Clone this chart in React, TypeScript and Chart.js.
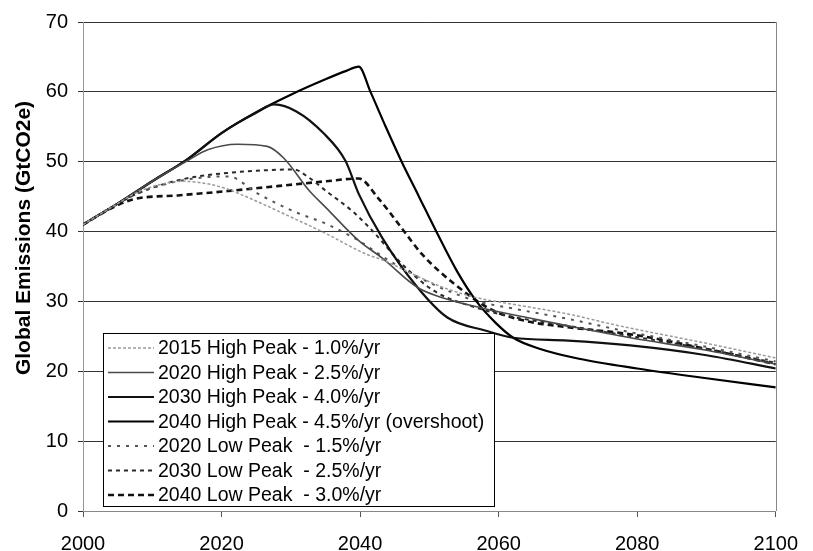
import { useEffect, useRef } from "react";
import { Chart, registerables } from "chart.js";

Chart.register(...registerables);

const FONT = '"Liberation Sans", Arial, Helvetica, sans-serif';

const yTitle = "Global Emissions (GtCO2e)";

const labels = [
  "2015 High Peak - 1.0%/yr",
  "2020 High Peak - 2.5%/yr",
  "2030 High Peak - 4.0%/yr",
  "2040 High Peak - 4.5%/yr (overshoot)",
  "2020 Low Peak  - 1.5%/yr",
  "2030 Low Peak  - 2.5%/yr",
  "2040 Low Peak  - 3.0%/yr",
];

const high2015Years = [2000, 2005, 2008, 2011, 2014.3, 2018.2, 2020.5, 2023.3, 2030.4, 2035.1, 2040.8, 2043.6, 2047.4, 2052, 2057, 2062, 2070, 2077, 2090, 2100];
const high2015Values = [41, 44, 45.7, 46.7, 47.2, 46.8, 46.2, 45.1, 41.9, 39.7, 36.8, 35.8, 34, 32, 30.5, 29.6, 28.2, 26.6, 24, 21.9];

const high2020Years = [2000, 2005, 2010, 2015, 2018, 2022.3, 2026.6, 2029, 2032.7, 2035.1, 2039.8, 2043.2, 2048.3, 2052, 2057.4, 2065, 2070, 2079, 2090, 2100];
const high2020Values = [41, 44, 47.2, 50.1, 51.7, 52.5, 52.2, 50.5, 45.8, 43.4, 38.7, 36.2, 32, 30.5, 29.1, 27.5, 26.5, 24.8, 23, 21];

const high2030Years = [2000, 2005, 2010, 2015, 2020, 2025, 2027.6, 2030.8, 2034.7, 2037.9, 2039.8, 2043.2, 2048.3, 2052.6, 2058.2, 2062.1, 2070, 2079, 2090, 2100];
const high2030Values = [41, 44, 47.2, 50.3, 54.1, 57.0, 58.2, 57.2, 54.1, 50.1, 45.4, 39.1, 32, 27.7, 25.8, 24.8, 24.4, 23.7, 22.3, 20.4];

const high2040Years = [2000, 2005, 2010, 2015, 2020, 2025, 2030, 2035, 2038, 2039.8, 2041.5, 2043.7, 2046, 2048.5, 2051, 2054, 2056.8, 2059.5, 2062.1, 2066, 2071.6, 2080, 2090, 2100];
const high2040Values = [41, 44, 47.2, 50.3, 54.1, 57.1, 59.6, 61.8, 63.0, 63.6, 60, 55, 50, 45, 40, 34.3, 30, 27, 24.8, 23.2, 21.8, 20.4, 19, 17.7];

const low2020Years = [2000, 2005, 2008, 2012, 2016, 2021, 2025.1, 2030.4, 2035.1, 2039.8, 2043.6, 2047.4, 2052, 2057, 2062, 2070, 2078, 2090, 2100];
const low2020Values = [41, 44, 45.5, 46.8, 47.6, 47.9, 45.5, 42.9, 41.1, 38.7, 36.2, 34, 31.8, 30, 29, 27.5, 25.8, 23.5, 21.4];

const low2030Years = [2000, 2005, 2008, 2012, 2016, 2020.9, 2025, 2030.4, 2032.5, 2035.1, 2038.9, 2041.8, 2046, 2050.7, 2056.8, 2062, 2070, 2078, 2090, 2100];
const low2030Values = [41, 44, 45.5, 46.9, 47.8, 48.4, 48.7, 48.9, 47.8, 45.8, 42.9, 40.1, 35.4, 31.5, 29.1, 27.8, 26.5, 25.2, 23.2, 21.2];

const low2040Years = [2000, 2004, 2007.2, 2014, 2020.9, 2028, 2035.1, 2039.8, 2042.6, 2046, 2048.9, 2053.6, 2059.2, 2063.9, 2070, 2079, 2090, 2100];
const low2040Values = [41, 43.3, 44.6, 45.2, 45.8, 46.5, 47.2, 47.6, 44.8, 40.5, 36.8, 32.5, 28.7, 27.2, 26.3, 25.3, 23.2, 21];

const xTicks = [2000, 2020, 2040, 2060, 2080, 2100];
const yTicks = [0, 10, 20, 30, 40, 50, 60, 70];

const seriesYears = [high2015Years, high2020Years, high2030Years, high2040Years, low2020Years, low2030Years, low2040Years];
const seriesValues = [high2015Values, high2020Values, high2030Values, high2040Values, low2020Values, low2030Values, low2040Values];

const styles = [
  { color: "#9a9a9a", width: 1.5, dash: [3, 2] },
  { color: "#4a4a4a", width: 1.6, dash: [] },
  { color: "#111111", width: 2.2, dash: [] },
  { color: "#000000", width: 2.2, dash: [] },
  { color: "#555555", width: 2, dash: [3, 6] },
  { color: "#2a2a2a", width: 2, dash: [4, 4] },
  { color: "#111111", width: 2.6, dash: [6, 4] },
];

const frame = {
  id: "frame",
  afterDraw(chart: any) {
    const { ctx, chartArea } = chart;
    ctx.save();
    ctx.strokeStyle = "#888";
    ctx.lineWidth = 1;
    ctx.beginPath();
    ctx.moveTo(Math.round(chartArea.right) + 0.5, chartArea.top);
    ctx.lineTo(Math.round(chartArea.right) + 0.5, chartArea.bottom);
    ctx.stroke();

    ctx.fillStyle = "#000";
    ctx.font = `bold 21px ${FONT}`;
    ctx.textAlign = "center";
    ctx.textBaseline = "middle";
    ctx.translate(24, 238);
    ctx.rotate(-Math.PI / 2);
    ctx.fillText(yTitle, 0, 0);
    ctx.restore();

    ctx.save();
    const bx = 103.5, by = 333.5, bw = 391, bh = 173;
    ctx.fillStyle = "#fff";
    ctx.fillRect(bx, by, bw, bh);
    ctx.strokeStyle = "#000";
    ctx.lineWidth = 1;
    ctx.strokeRect(bx, by, bw, bh);
    const rowY = [348, 372.5, 397, 421.5, 446, 470.5, 495];
    chart.data.datasets.forEach((ds: any, i: number) => {
      const y = rowY[i];
      ctx.save();
      ctx.strokeStyle = ds.borderColor;
      ctx.lineWidth = ds.borderWidth;
      ctx.setLineDash(ds.borderDash || []);
      ctx.beginPath();
      ctx.moveTo(108, y);
      ctx.lineTo(154, y);
      ctx.stroke();
      ctx.restore();
      ctx.fillStyle = "#000";
      ctx.font = `19.5px ${FONT}`;
      ctx.textAlign = "left";
      ctx.textBaseline = "middle";
      ctx.fillText(ds.label, 158, y + 1);
    });
    ctx.restore();
  },
};

export default function App() {
  const ref = useRef<HTMLCanvasElement | null>(null);

  useEffect(() => {
    if (!ref.current) return;
    const datasets = labels.map((label, i) => ({
      label,
      data: seriesYears[i].map((x, j) => ({ x, y: seriesValues[i][j] })),
      borderColor: styles[i].color,
      borderWidth: styles[i].width,
      borderDash: styles[i].dash,
      pointRadius: 0,
      fill: false,
      cubicInterpolationMode: "monotone" as const,
    }));
    const chart = new Chart(ref.current, {
      type: "line",
      data: { datasets },
      options: {
        animation: false,
        responsive: false,
        layout: { padding: { top: 20, right: 26, left: 0, bottom: 0 } },
        plugins: { legend: { display: false }, tooltip: { enabled: false } },
        scales: {
          x: {
            type: "linear",
            min: 2000,
            max: 2100,
            afterBuildTicks: (s: any) => {
              s.ticks = xTicks.map((v) => ({ value: v }));
            },
            afterFit: (s: any) => {
              s.height = 40;
            },
            ticks: {
              color: "#000",
              font: { size: 20, family: FONT },
              padding: 15,
              maxRotation: 0,
              callback: (v: any) => String(v),
            },
            grid: { drawOnChartArea: false, drawTicks: true, tickLength: 6, color: "#555" },
            border: { color: "#888" },
          },
          y: {
            min: 0,
            max: 70,
            afterBuildTicks: (s: any) => {
              s.ticks = yTicks.map((v) => ({ value: v }));
            },
            afterFit: (s: any) => {
              s.width = 83;
            },
            ticks: {
              color: "#000",
              font: { size: 20, family: FONT },
              padding: 10,
              callback: (v: any) => String(v),
            },
            grid: { color: "#333", tickLength: 5 },
            border: { color: "#999" },
          },
        },
      },
      plugins: [frame],
    });
    return () => chart.destroy();
  }, []);

  return (
    <div style={{ position: "fixed", left: 0, top: 0, width: 813, height: 551, background: "#fff" }}>
      <canvas ref={ref} width={813} height={551} style={{ display: "block" }} />
    </div>
  );
}
